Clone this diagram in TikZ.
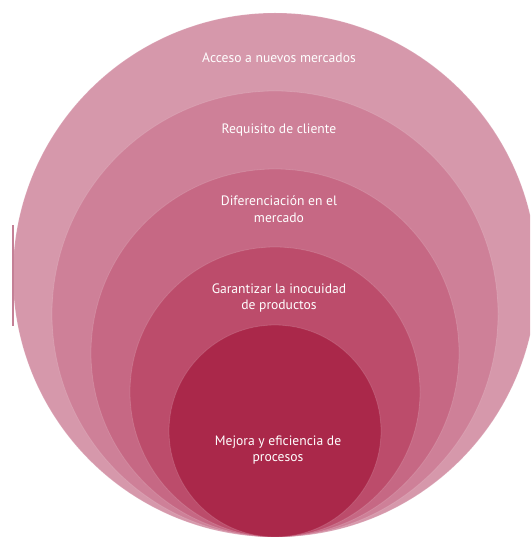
\documentclass[tikz,border=0pt]{standalone}
\usepackage{fontspec}
\setmainfont{PT Sans}
\usetikzlibrary{positioning}
\definecolor{ringA}{RGB}{214,152,171}
\definecolor{ringB}{RGB}{206,128,152}
\definecolor{ringC}{RGB}{198,104,132}
\definecolor{ringD}{RGB}{188,76,107}
\definecolor{ringE}{RGB}{170,40,74}
\definecolor{barcol}{RGB}{196,128,150}
\pgfkeys{tikz/ring/.style={draw=white,draw opacity=0.15,line width=0.8pt}}
\pgfkeys{tikz/ringlabel/.style={text=white,font=\fontsize{13.6}{16.5}\selectfont,align=center,inner sep=0pt}}

\begin{document}
\begin{tikzpicture}[x=1pt,y=-1pt]
    \useasboundingbox (0,0) rectangle (530,537);
    \clip (0,0) rectangle (530,537);
    \foreach \r/\c in {262/ringA,223/ringB,184/ringC,145/ringD,106/ringE}{
        \filldraw[ring,fill=\c] (275,537-\r) circle [radius=\r pt];
    }
    \draw[barcol,line width=1.2pt] (13,225) -- (13,326);
    \node[ringlabel] (acceso) at (279,58) {Acceso a nuevos mercados};
    \node[ringlabel] (requisito) at (279,130) {Requisito de cliente};
    \node[ringlabel] (diferenciacion) at (279,209) {Diferenciación en el\\mercado};
    \node[ringlabel] (garantizar) at (279,298) {Garantizar la inocuidad\\de productos};
    \node[ringlabel] (mejora) at (278,450) {Mejora y eficiencia de\\procesos};
\end{tikzpicture}
\end{document}
